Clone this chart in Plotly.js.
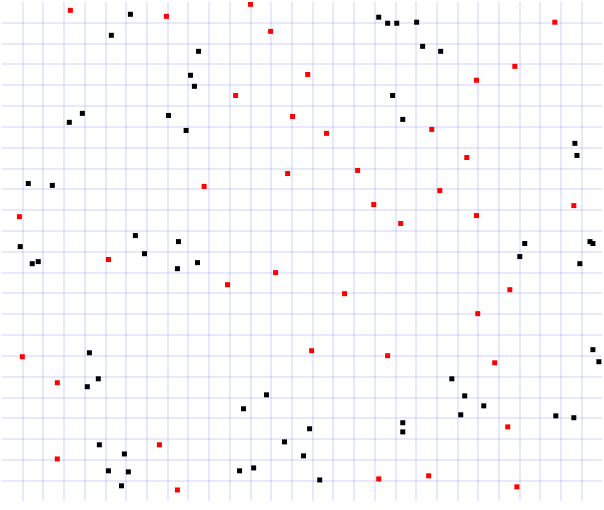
<!DOCTYPE html>
<html>
<head>
<meta charset="utf-8">
<script src="https://cdn.plot.ly/plotly-3.0.1.min.js"></script>
<style>html,body{margin:0;padding:0;background:#fff;}#chart{width:604px;height:510px;}</style>
</head>
<body>
<div id="chart"></div>
<script>
var blackX = [6.20,5.28,9.49,9.10,9.29,3.88,3.25,8.04,8.89,18.19,18.62,19.06,20.02,20.31,21.18,18.86,19.35,27.66,27.76,1.27,2.43,0.88,1.46,1.75,6.44,6.88,8.52,8.47,9.44,25.24,28.39,28.53,25.00,27.90,4.22,4.65,4.12,12.77,11.66,13.64,4.70,5.91,5.14,6.10,5.77,11.47,12.15,14.56,28.53,28.82,21.72,22.34,23.26,22.15,26.74,27.61,14.85,19.35,19.35,15.34];
var blackY = [23.41,22.40,21.63,20.48,19.95,18.65,18.22,18.55,17.83,23.27,22.98,22.98,23.03,21.87,21.63,19.51,18.36,17.21,16.63,15.28,15.19,12.25,11.43,11.53,12.78,11.91,12.49,11.19,11.48,12.40,12.49,12.40,11.77,11.43,7.15,5.90,5.52,5.13,4.46,2.87,2.73,2.29,1.48,1.43,0.76,1.48,1.62,2.20,7.30,6.72,5.90,5.08,4.60,4.17,4.12,4.03,3.50,3.79,3.35,1.04];
var redX = [3.30,7.94,12.00,12.97,11.28,14.03,26.69,14.76,24.76,22.91,15.67,20.75,22.44,17.17,9.76,13.79,0.84,5.14,10.89,13.21,21.14,17.95,19.25,22.91,27.61,16.54,24.52,22.97,0.98,2.67,7.60,2.67,8.47,14.95,18.62,23.79,24.42,18.19,20.60,24.86];
var redY = [23.60,23.31,23.89,22.59,19.51,18.50,23.03,20.52,20.91,20.24,17.69,17.88,16.53,15.91,15.14,15.76,13.69,11.63,10.42,11.00,14.94,14.27,13.36,13.74,14.22,9.99,10.18,9.03,6.96,5.71,2.73,2.05,0.56,7.25,7.01,6.67,3.59,1.09,1.24,0.71];

var traces = [
  {x: blackX, y: blackY, type: 'scatter', mode: 'markers', name: 'black',
   marker: {symbol: 'square', size: 5, color: '#000000', line: {width: 0}}},
  {x: redX, y: redY, type: 'scatter', mode: 'markers', name: 'red',
   marker: {symbol: 'square', size: 5, color: '#ff0000', line: {width: 0}}}
];
var gridCol = 'rgba(0,0,255,0.09)';
var layout = {
  width: 604, height: 510,
  margin: {l: 2, r: 2, t: 2, b: 9, pad: 0},
  paper_bgcolor: '#ffffff', plot_bgcolor: '#ffffff',
  showlegend: false,
  xaxis: {range: [0, 28.97], dtick: 1, tick0: 0, showgrid: true, gridcolor: gridCol, gridwidth: 2,
          zeroline: false, showticklabels: false, ticks: '', showline: false, fixedrange: true},
  yaxis: {range: [0.03, 24], dtick: 1, tick0: 0, showgrid: true, gridcolor: gridCol, gridwidth: 2,
          zeroline: false, showticklabels: false, ticks: '', showline: false, fixedrange: true}
};
Plotly.newPlot('chart', traces, layout, {displayModeBar: false, staticPlot: true});
</script>
</body>
</html>
